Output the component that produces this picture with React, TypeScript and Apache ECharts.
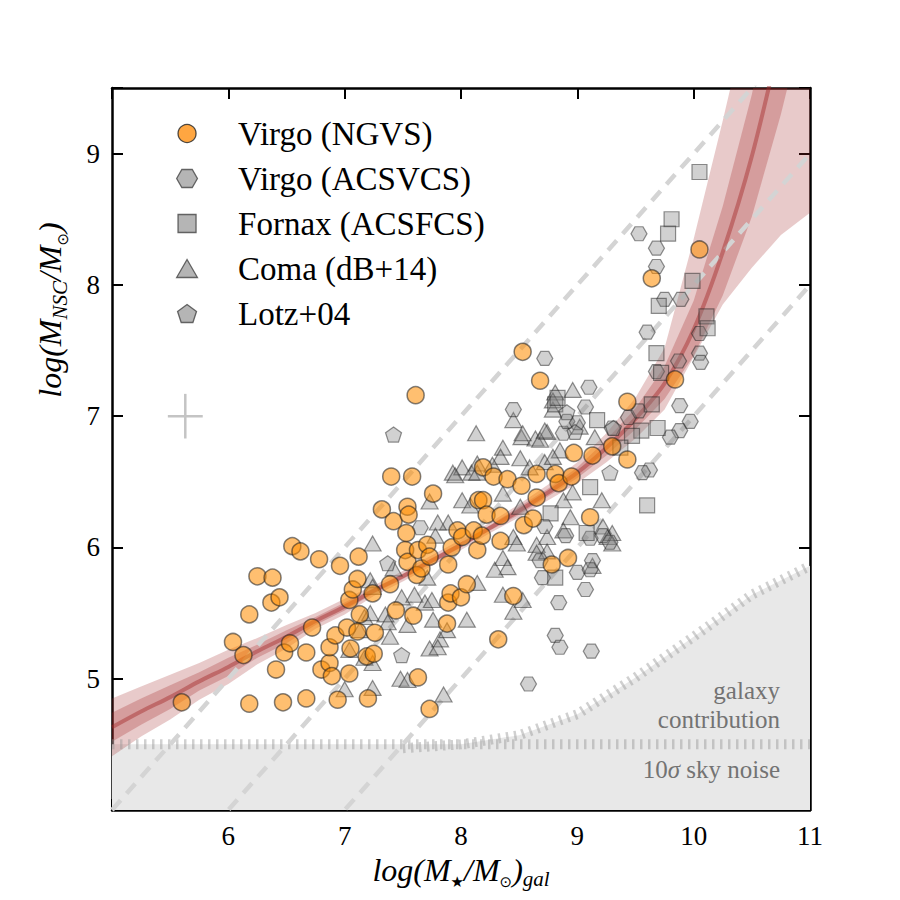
import React, { useEffect, useRef } from "react";
import * as echarts from "echarts";

const FONT = "Liberation Serif";

// Virgo (NGVS) nuclei: [log M_gal, log M_NSC]
const ngvs: [number, number][] = [
  [5.60, 4.82], [6.04, 5.28], [6.13, 5.18], [6.18, 5.49], [6.18, 4.81], [6.25, 5.78], [6.38, 5.77],
  [6.37, 5.58], [6.44, 5.62], [6.48, 5.20], [6.53, 5.27], [6.41, 5.07], [6.47, 4.82], [6.55, 6.01],
  [6.62, 5.97], [6.67, 5.20], [6.67, 4.85], [6.72, 5.39], [6.78, 5.91], [6.80, 5.07], [6.87, 5.12],
  [6.89, 5.02], [6.87, 5.24], [6.92, 5.33], [6.94, 4.84], [6.96, 5.86], [7.02, 5.39], [7.04, 5.60],
  [7.04, 5.04], [7.05, 5.23], [7.07, 5.68], [7.11, 5.76], [7.11, 5.36], [7.12, 5.93], [7.13, 5.49],
  [7.19, 5.17], [7.20, 4.85], [7.25, 5.19], [7.24, 5.65], [7.26, 5.35], [7.32, 6.29], [7.39, 5.72],
  [7.40, 6.54], [7.42, 6.20], [7.44, 5.52], [7.52, 5.98], [7.53, 6.11], [7.54, 6.31], [7.55, 6.25],
  [7.54, 5.89], [7.58, 6.54], [7.59, 5.48], [7.61, 7.16], [7.62, 5.79], [7.63, 5.98], [7.63, 5.01],
  [7.66, 5.84], [7.71, 6.02], [7.73, 5.93], [7.73, 4.77], [7.76, 6.41], [7.88, 5.42], [7.89, 5.58],
  [7.89, 5.87], [7.91, 5.65], [7.92, 6.00], [7.97, 6.13], [8.00, 5.62], [8.01, 6.08], [8.05, 5.72],
  [8.11, 6.13], [8.14, 5.98], [8.15, 6.36], [8.18, 6.09], [8.19, 6.61], [8.19, 6.36], [8.22, 6.25],
  [8.28, 6.54], [8.32, 5.30], [8.34, 6.24], [8.34, 6.05], [8.40, 6.52], [8.45, 5.63], [8.52, 6.47],
  [8.53, 7.49], [8.54, 6.17], [8.62, 6.22], [8.65, 6.56], [8.65, 6.38], [8.68, 7.27], [8.78, 5.87],
  [8.81, 6.56], [8.84, 6.49], [8.92, 5.92], [8.95, 6.54], [8.97, 6.72], [9.11, 6.23], [9.13, 6.70],
  [9.30, 6.77], [9.43, 7.11], [9.43, 6.67], [9.64, 8.05], [9.84, 7.28], [10.05, 8.27],
];

// Virgo (ACSVCS)
const acsvcs: [number, number][] = [
  [9.53, 8.39], [9.68, 8.28], [9.68, 8.14], [9.75, 7.89], [9.89, 7.89], [9.60, 7.64], [10.05, 7.63],
  [10.05, 7.48], [10.06, 7.41], [9.87, 7.42], [9.68, 7.34], [9.88, 7.08], [9.97, 6.96], [9.88, 6.89],
  [9.80, 6.84], [9.44, 6.99], [9.53, 7.04], [9.62, 6.59], [9.56, 6.57], [9.10, 7.22], [9.07, 7.07],
  [8.72, 7.44], [8.88, 6.87], [8.84, 5.58], [9.07, 5.68], [8.81, 5.33], [8.85, 5.24], [9.12, 5.21],
  [8.58, 4.96], [9.13, 5.90], [8.68, 5.90], [8.70, 5.77], [9.00, 5.81], [9.11, 5.83], [9.11, 6.07],
  [8.45, 7.05], [8.91, 6.96], [9.00, 6.95], [8.72, 6.16], [9.22, 6.09], [9.28, 6.04], [8.90, 6.09],
  [9.30, 6.91], [7.65, 6.15],
];

// Fornax (ACSFCS)
const acsfcs: [number, number][] = [
  [10.05, 8.86], [9.81, 8.50], [9.78, 8.39], [9.99, 8.03], [9.70, 7.84], [10.11, 7.76], [10.12, 7.67],
  [9.68, 7.48], [9.72, 7.33], [9.64, 7.09], [9.69, 6.91], [9.55, 6.89], [9.47, 6.85], [9.60, 6.32],
  [8.81, 7.09], [8.83, 7.14], [9.17, 6.97], [9.11, 6.46], [8.77, 6.26], [8.81, 5.77], [9.08, 6.11],
  [9.37, 6.76],
];

// Coma (dB+14)
const coma: [number, number][] = [
  [7.24, 6.03], [7.93, 6.57], [8.01, 6.61], [8.09, 6.57], [7.73, 6.35], [8.01, 6.36], [8.08, 6.32],
  [7.89, 6.19], [7.80, 6.19], [7.78, 6.09], [7.22, 5.75], [7.49, 5.62], [7.60, 5.64], [7.69, 5.58],
  [7.75, 5.60], [7.35, 5.49], [7.37, 5.43], [7.54, 5.41], [7.76, 5.45], [8.05, 5.45], [7.17, 5.47],
  [7.39, 5.32], [7.82, 5.30], [7.42, 5.84], [8.14, 5.73], [7.71, 5.77], [7.24, 5.70], [8.13, 6.87],
  [8.45, 6.97], [8.52, 6.84], [8.64, 6.83], [8.74, 6.88], [8.68, 6.82], [8.36, 6.76], [8.34, 6.69],
  [8.27, 6.63], [8.51, 6.68], [8.59, 6.61], [8.72, 6.65], [8.81, 7.18], [8.96, 7.20], [9.15, 6.84],
  [8.85, 6.74], [8.79, 6.69], [8.96, 6.42], [9.21, 6.36], [8.88, 6.36], [8.36, 6.41], [8.14, 6.57],
  [8.51, 6.31], [8.94, 6.23], [9.22, 6.16], [8.88, 6.13], [8.74, 6.08], [8.45, 6.08], [9.26, 6.08],
  [7.95, 6.55], [8.53, 6.87], [8.79, 7.05], [9.02, 6.92], [8.36, 5.64], [8.53, 5.60], [8.45, 5.51],
  [7.88, 5.37], [8.48, 6.03], [8.65, 6.02], [8.65, 5.96], [8.74, 5.97], [8.36, 5.92], [8.40, 5.85],
  [8.29, 5.83], [7.24, 4.93], [7.85, 4.88], [7.48, 5.00], [7.54, 4.99], [7.73, 5.23], [7.80, 5.24],
  [7.22, 5.50], [7.17, 5.16], [7.24, 5.12], [7.00, 4.92], [7.04, 5.22], [7.13, 5.37], [9.30, 6.11],
  [9.30, 6.03], [8.79, 7.12], [8.72, 6.89], [8.14, 6.64], [9.13, 5.86],
];

// Lotz+04
const lotz: [number, number][] = [
  [7.42, 6.86], [8.91, 7.03], [8.98, 6.88], [9.28, 6.57], [9.31, 6.91], [7.37, 5.88], [7.49, 5.18],
];

// Fitted relation: median curve with inner / outer confidence bands
const fitX = [5.0, 5.25, 5.5, 5.75, 6.0, 6.25, 6.5, 6.75, 7.0, 7.25, 7.5, 7.75, 8.0, 8.25, 8.5, 8.75, 9.0, 9.25, 9.5, 9.75, 10.0, 10.25, 10.5, 10.75, 11.0];
const fitMid = [4.63, 4.75, 4.86, 4.98, 5.09, 5.21, 5.32, 5.44, 5.55, 5.67, 5.78, 5.90, 6.02, 6.15, 6.28, 6.42, 6.57, 6.76, 6.98, 7.25, 7.66, 8.25, 8.98, 9.90, 10.9];
const fitOuterHi = [4.85, 4.94, 5.03, 5.12, 5.22, 5.31, 5.41, 5.50, 5.61, 5.71, 5.82, 5.94, 6.06, 6.19, 6.33, 6.48, 6.65, 6.87, 7.14, 7.52, 8.35, 9.25, 10.2, 11.2, 12.3];
const fitOuterLo = [4.41, 4.56, 4.69, 4.84, 4.96, 5.11, 5.23, 5.38, 5.49, 5.63, 5.74, 5.86, 5.98, 6.11, 6.23, 6.36, 6.49, 6.65, 6.83, 7.05, 7.45, 7.85, 8.13, 8.38, 8.55];
const fitInnerHi = [4.74, 4.85, 4.95, 5.05, 5.16, 5.26, 5.37, 5.47, 5.58, 5.69, 5.80, 5.92, 6.04, 6.17, 6.31, 6.45, 6.61, 6.82, 7.06, 7.38, 7.88, 8.60, 9.45, 10.5, 11.6];
const fitInnerLo = [4.52, 4.65, 4.77, 4.91, 5.02, 5.16, 5.27, 5.41, 5.52, 5.65, 5.76, 5.88, 6.00, 6.13, 6.25, 6.39, 6.53, 6.70, 6.90, 7.13, 7.46, 7.92, 8.52, 9.30, 10.2];

// Constant mass-ratio lines: log M_NSC = log M_gal + offset
const ratioOffsets = [-1, -2, -3];

// Detection limits
const skyNoiseLevel = 4.5;
const galaxyLimitX = [7.5, 8.0, 8.5, 9.0, 9.5, 10.0, 10.5, 11.0];
const galaxyLimitY = [4.47, 4.50, 4.57, 4.73, 5.01, 5.32, 5.64, 5.86];

// Typical uncertainty
const errCenter = [5.63, 7.0];
const errHalf = [0.15, 0.17];

const X_MIN = 5, X_MAX = 11, Y_MIN = 4, Y_MAX = 9.5;

const HEX = "path://M-10,0L-5,-8.66L5,-8.66L10,0L5,8.66L-5,8.66Z";
const PENT = "path://M0,-10L9.51,-3.09L5.88,8.09L-5.88,8.09L-9.51,-3.09Z";
const SQUARE = "path://M0,0L10,0L10,10L0,10Z";
const TRI = "path://M0,-10L10,7.32L-10,7.32Z";

const grayStyle = { color: "rgba(128,128,128,0.45)", borderColor: "rgba(30,30,30,0.6)", borderWidth: 1.2 };
const legendGray = { color: "#a2a2a2", borderColor: "#444", borderWidth: 1.3 };

function polygonSeries(xs: number[], lo: number[], hi: number[], fill: string) {
  return {
    type: "custom",
    silent: true,
    clip: true,
    z: 1,
    data: [[xs[0], lo[0]]],
    renderItem: (params: any, api: any) => {
      const pts: number[][] = [];
      xs.forEach((x, i) => pts.push(api.coord([x, hi[i]])));
      for (let i = xs.length - 1; i >= 0; i--) pts.push(api.coord([xs[i], lo[i]]));
      const cs = params.coordSys;
      return {
        type: "polygon",
        shape: { points: pts },
        style: { fill },
        clipPath: { type: "rect", shape: { x: cs.x, y: cs.y, width: cs.width, height: cs.height } },
      };
    },
  };
}

function buildOption(): any {
  // filled region below the detection limit (max of sky noise and galaxy light)
  const limX = [X_MIN, ...galaxyLimitX];
  const limTop = [skyNoiseLevel, ...galaxyLimitY.map((y) => Math.max(y, skyNoiseLevel))];
  const limBottom = limX.map(() => Y_MIN);

  const tickedLine = { color: "rgba(150,150,150,0.45)", width: 10, type: [2.5, 5.5] };

  const axisCommon = {
    type: "value",
    axisLine: { show: true, onZero: false, lineStyle: { color: "#000", width: 2.5 } },
    axisTick: { show: true, inside: true, length: 11, lineStyle: { color: "#000", width: 2 } },
    splitLine: { show: false },
  };
  const labelStyle = { fontFamily: FONT, fontSize: 27, color: "#000" };
  const richMain = { fontFamily: FONT, fontStyle: "italic", fontSize: 32, fill: "#000", color: "#000", lineHeight: 40, verticalAlign: "middle" };
  const richSub = { fontFamily: FONT, fontStyle: "italic", fontSize: 21, fill: "#000", color: "#000", lineHeight: 20, verticalAlign: "bottom" };
  const richSym = { fontFamily: "DejaVu Sans", fontSize: 15, fill: "#000", color: "#000", lineHeight: 20, verticalAlign: "bottom" };
  const annot = { fontFamily: FONT, fontSize: 25, fill: "#737373" };

  const series: any[] = [
    polygonSeries(limX, limBottom, limTop, "#e8e8e8"),
    {
      type: "line", silent: true, z: 2, showSymbol: false,
      data: [[X_MIN, skyNoiseLevel], [X_MAX, skyNoiseLevel]],
      lineStyle: tickedLine,
    },
    {
      type: "line", silent: true, z: 2, showSymbol: false,
      data: galaxyLimitX.map((x, i) => [x, galaxyLimitY[i]]),
      lineStyle: tickedLine,
    },
    ...ratioOffsets.map((c) => ({
      type: "line", silent: true, z: 2, showSymbol: false,
      data: [[X_MIN, X_MIN + c], [X_MAX, X_MAX + c]],
      lineStyle: { color: "#d4d4d4", width: 4.5, type: [13, 9] },
    })),
    polygonSeries(fitX, fitOuterLo, fitOuterHi, "rgba(165,42,42,0.25)"),
    polygonSeries(fitX, fitInnerLo, fitInnerHi, "rgba(165,42,42,0.28)"),
    {
      type: "line", silent: true, z: 2, showSymbol: false, smooth: 0.3,
      data: fitX.map((x, i) => [x, fitMid[i]]),
      lineStyle: { color: "rgba(165,42,42,0.45)", width: 4 },
    },
    {
      type: "line", silent: true, z: 2, showSymbol: false,
      data: [[errCenter[0] - errHalf[0], errCenter[1]], [errCenter[0] + errHalf[0], errCenter[1]]],
      lineStyle: { color: "#c4c4c4", width: 2.5 },
    },
    {
      type: "line", silent: true, z: 2, showSymbol: false,
      data: [[errCenter[0], errCenter[1] - errHalf[1]], [errCenter[0], errCenter[1] + errHalf[1]]],
      lineStyle: { color: "#c4c4c4", width: 2.5 },
    },
    { name: "Coma (dB+14)", type: "scatter", z: 3, silent: true, data: coma, symbol: TRI, symbolSize: [17, 15], itemStyle: grayStyle },
    { name: "Virgo (ACSVCS)", type: "scatter", z: 3, silent: true, data: acsvcs, symbol: HEX, symbolSize: [16, 14], itemStyle: grayStyle },
    { name: "Fornax (ACSFCS)", type: "scatter", z: 3, silent: true, data: acsfcs, symbol: SQUARE, symbolSize: 15, itemStyle: grayStyle },
    { name: "Lotz+04", type: "scatter", z: 3, silent: true, data: lotz, symbol: PENT, symbolSize: [16, 15], itemStyle: grayStyle },
    {
      name: "Virgo (NGVS)", type: "scatter", z: 4, silent: true, data: ngvs, symbol: "circle", symbolSize: 17,
      itemStyle: { color: "rgba(255,140,0,0.7)", borderColor: "rgba(30,30,30,0.7)", borderWidth: 1.5 },
    },
  ];

  return {
    animation: false,
    backgroundColor: "#fff",
    grid: { left: 112, right: 90, top: 88, bottom: 90, containLabel: false },
    legend: {
      orient: "vertical", left: 171, top: 112, itemWidth: 92, itemHeight: 18, itemGap: 12,
      selectedMode: false,
      textStyle: { fontFamily: FONT, fontSize: 33, color: "#000", lineHeight: 32 },
      data: [
        { name: "Virgo (NGVS)", icon: "circle", itemStyle: { color: "#ff9012", borderColor: "#222", borderWidth: 1.3 } },
        { name: "Virgo (ACSVCS)", icon: HEX, itemStyle: legendGray },
        { name: "Fornax (ACSFCS)", icon: SQUARE, itemStyle: legendGray },
        { name: "Coma (dB+14)", icon: TRI, itemStyle: legendGray },
        { name: "Lotz+04", icon: PENT, itemStyle: legendGray },
      ],
    },
    xAxis: [
      {
        ...axisCommon, min: X_MIN, max: X_MAX, interval: 1, position: "bottom",
        axisLabel: {
          ...labelStyle, margin: 12, showMinLabel: true, showMaxLabel: true, hideOverlap: false,
          formatter: (v: number) => (v > X_MIN && Number.isInteger(v) ? String(v) : ""),
        },
        name: "{i|log(M}{o|★}{i|/M}{o|⊙}{i|)}{s|gal}",
        nameLocation: "middle", nameGap: 35,
        nameTextStyle: { rich: { i: richMain, s: richSub, o: richSym } },
      },
      {
        ...axisCommon, min: X_MIN, max: X_MAX, interval: 1, position: "top",
        axisLabel: { show: false },
      },
    ],
    yAxis: [
      {
        ...axisCommon, min: Y_MIN, max: Y_MAX, interval: 1, position: "left",
        axisLabel: {
          ...labelStyle, margin: 12, showMinLabel: true, showMaxLabel: true, hideOverlap: false,
          formatter: (v: number) => (v > Y_MIN && Number.isInteger(v) ? String(v) : ""),
        },
      },
      {
        ...axisCommon, min: Y_MIN, max: Y_MAX, interval: 1, position: "right",
        axisLabel: { show: false },
      },
    ],
    graphic: [
      {
        type: "text", x: 50, y: 310, rotation: Math.PI / 2, z: 100, silent: true,
        style: {
          text: "{i|log(M}{s|NSC}{i|/M}{o|⊙}{i|)}",
          align: "center", verticalAlign: "middle",
          rich: { i: richMain, s: richSub, o: richSym },
        },
      },
      {
        type: "text", x: 780, y: 690, z: 100, silent: true,
        style: { ...annot, text: "galaxy", align: "right", verticalAlign: "middle" },
      },
      {
        type: "text", x: 780, y: 719, z: 100, silent: true,
        style: { ...annot, text: "contribution", align: "right", verticalAlign: "middle" },
      },
      {
        type: "text", x: 780, y: 769, z: 100, silent: true,
        style: {
          text: "{r|10}{g|σ}{r| sky noise}", align: "right", verticalAlign: "middle",
          rich: { r: annot, g: { ...annot, fontStyle: "italic" } },
        },
      },
    ],
    series,
  };
}

export default function App() {
  const ref = useRef<HTMLDivElement>(null);
  useEffect(() => {
    if (!ref.current) return;
    const chart = echarts.init(ref.current, undefined, { renderer: "svg" });
    chart.setOption(buildOption());
    return () => chart.dispose();
  }, []);
  return <div ref={ref} style={{ position: "absolute", left: 0, top: 0, width: 900, height: 900, background: "#fff" }} />;
}
